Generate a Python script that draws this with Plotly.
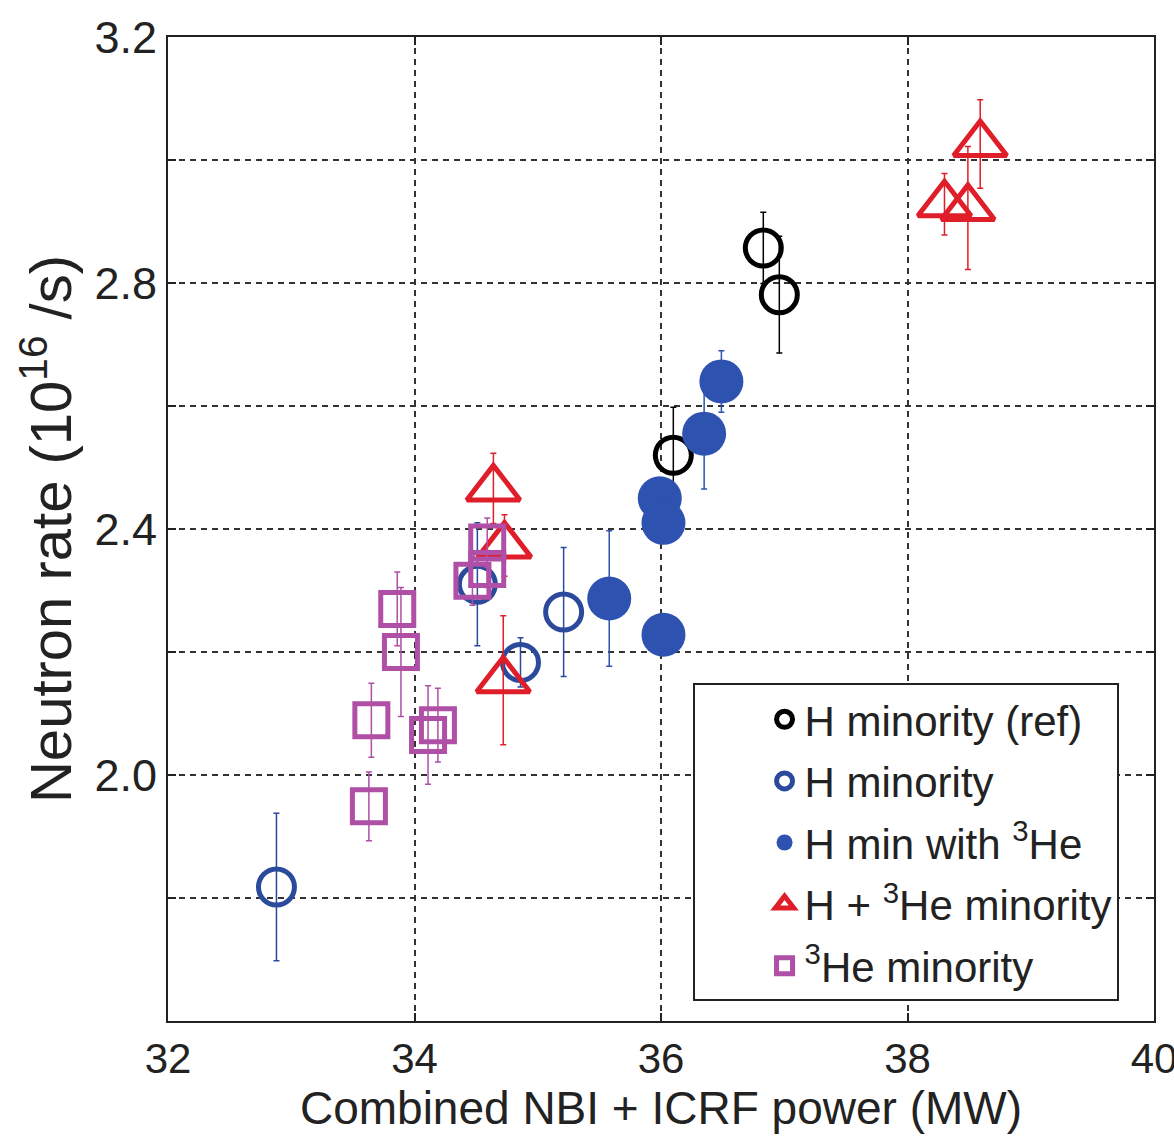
import plotly.graph_objects as go

# ---- data ----
ref_x = [36.83, 36.96, 36.10]
ref_y = [2.857, 2.781, 2.520]
ref_err = [0.058, 0.095, 0.078]

hmin_x = [32.88, 34.51, 34.86, 35.21]
hmin_y = [1.818, 2.310, 2.183, 2.265]
hmin_err = [0.12, 0.10, 0.04, 0.105]

hmin3he_x = [36.49, 36.35, 35.99, 36.02, 35.58, 36.02]
hmin3he_y = [2.640, 2.555, 2.450, 2.410, 2.287, 2.228]
hmin3he_err = [0.05, 0.09, 0.03, 0.03, 0.11, 0.03]

hhe_x = [38.59, 38.30, 38.49, 34.64, 34.73, 34.72]
hhe_y = [3.026, 2.928, 2.922, 2.466, 2.373, 2.154]
hhe_err = [0.072, 0.05, 0.10, 0.057, 0.05, 0.105]

he_x = [34.59, 34.59, 34.47, 33.86, 33.89, 33.65, 34.19, 34.11, 33.63]
he_y = [2.378, 2.335, 2.316, 2.270, 2.200, 2.089, 2.081, 2.065, 1.949]
he_err = [0.04, 0.03, 0.04, 0.06, 0.105, 0.06, 0.06, 0.08, 0.056]

names = ["H minority (ref)", "H minority", "H min with <sup>3</sup>He",
         "H + <sup>3</sup>He minority", "<sup>3</sup>He minority"]

y_tickvals = [1.8, 2.0, 2.2, 2.4, 2.6, 2.8, 3.0, 3.2]
y_ticktext = ["", "2.0", "", "2.4", "", "2.8", "", "3.2"]
x_tickvals = [32, 34, 36, 38, 40]

FONT = "Liberation Sans, Arial, sans-serif"

series = [
    (ref_x, ref_y, ref_err, names[0], "circle-open", "#000000", 36, 5),
    (hmin_x, hmin_y, hmin_err, names[1], "circle-open", "#2c4a9c", 36, 5),
    (hmin3he_x, hmin3he_y, hmin3he_err, names[2], "circle", "#2e52b0", 44, 0),
    (hhe_x, hhe_y, hhe_err, names[3], "triangle-up-open", "#e01e2a", 46, 5),
    (he_x, he_y, he_err, names[4], "square-open", "#b04fa6", 33, 5),
]

fig = go.Figure()
for i, (xs, ys, es, nm, sym, col, sz, lw) in enumerate(series):
    fig.add_trace(go.Scatter(
        x=xs, y=ys, mode="markers", name=nm, legendgroup=f"g{i}",
        marker=dict(symbol=sym, size=sz, color=col,
                    line=dict(width=lw, color=col)),
        error_y=dict(type="data", array=es, visible=True,
                     color=col, thickness=1.5, width=3),
    ))

axis_common = dict(
    showline=True, linecolor="#222", linewidth=2, mirror="ticks",
    ticks="inside", ticklen=8, tickcolor="#222", tickwidth=1.5,
    showgrid=True, gridcolor="#333", gridwidth=2, griddash="6px,5px",
    zeroline=False, ticklabeloverflow="allow", automargin=False,
)

fig.update_layout(
    width=1174, height=1142,
    paper_bgcolor="white", plot_bgcolor="white",
    margin=dict(l=168, r=20, t=37, b=121, autoexpand=False),
    showlegend=True,
    legend=dict(
        x=0.532, y=0.343, xanchor="left", yanchor="top",
        bgcolor="white", bordercolor="#222", borderwidth=2,
        font=dict(family=FONT, size=42, color="#222"),
        tracegroupgap=4, itemsizing="trace", indentation=70,
    ),
    xaxis=dict(
        range=[32, 40], tickvals=x_tickvals,
        tickfont=dict(family=FONT, size=42, color="#222"),
        title=dict(text="Combined NBI + ICRF power (MW)",
                   font=dict(family=FONT, size=46, color="#222"), standoff=4),
        **axis_common,
    ),
    yaxis=dict(
        range=[1.6, 3.2], tickvals=y_tickvals, ticktext=y_ticktext,
        tickfont=dict(family=FONT, size=45, color="#222"),
        title=dict(text="Neutron rate (10<sup>16</sup> /s)",
                   font=dict(family=FONT, size=58, color="#222"), standoff=4),
        ticklabelstandoff=0,
        **axis_common,
    ),
)

fig.write_html("out.html")
